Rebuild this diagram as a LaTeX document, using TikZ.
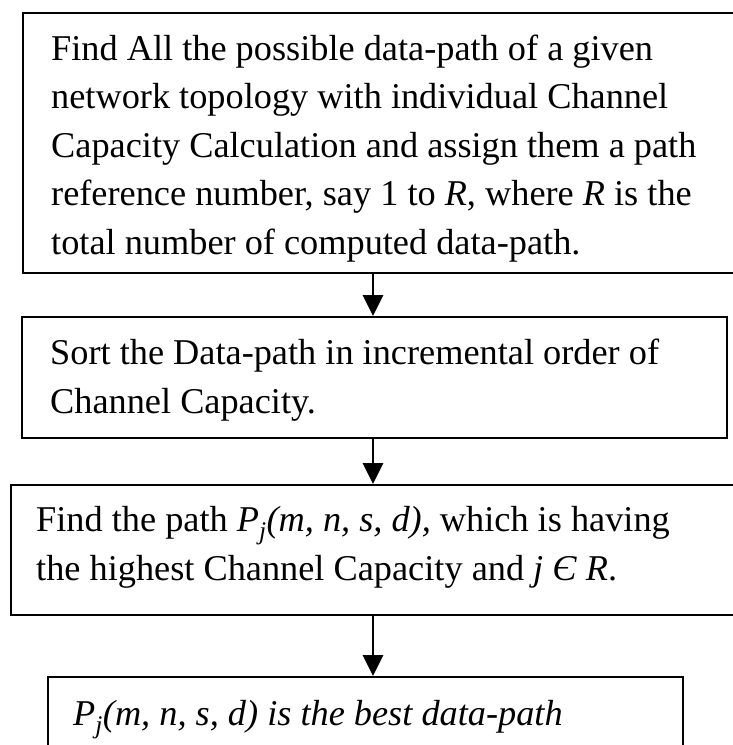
\documentclass[tikz,border=0pt]{standalone}
\usepackage{fontspec}
\setmainfont{Liberation Serif}
\usetikzlibrary{arrows.meta}
\begin{document}
\begin{tikzpicture}[x=1pt,y=-1pt,
  box/.style={draw=black, line width=1.8pt, rectangle, inner sep=0pt, anchor=north west},
  txt/.style={inner sep=0pt, anchor=base west, align=left,
    font=\fontsize{36.3}{48.5}\selectfont},
  flow/.style={line width=2.8pt, -{Triangle[length=21pt 0 0, width=20pt 0 0]}}]
\useasboundingbox (0,0) rectangle (732,745);

% process boxes (first and third run past the right edge, the last past the bottom)
\node[box, minimum width=723pt, minimum height=260pt] (b1) at (22,12) {};
\node[box, minimum width=705pt, minimum height=121pt] (b2) at (21,316) {};
\node[box, minimum width=735pt, minimum height=130pt] (b3) at (10,484) {};
\node[box, minimum width=635pt, minimum height=90pt] (b4) at (47,676) {};

% box texts, each placed by the baseline of its last line
\node[txt] (t1) at (51,254) {Find All the possible data-path of a given\\
network topology with individual Channel\\
Capacity Calculation and assign them a path\\
reference number, say 1 to \textit{R}, where \textit{R} is the\\
total number of computed data-path.};
\node[txt] (t2) at (50,413) {Sort the Data-path in incremental order of\\
Channel Capacity.};
\node[txt] (t3) at (36,580) {Find the path \textit{P}\textsubscript{\textit{j}}\textit{(m, n, s, d),} which is having\\
the highest Channel Capacity and \textit{j} \textit{Є} \textit{R}.};
\node[txt] (t4) at (73,725) {\itshape P\textsubscript{j}(m, n, s, d) is the best data-path};

% connectors
\coordinate (ax) at (373,0);
\draw[flow] (b1.south -| ax) -- (b2.north -| ax);
\draw[flow] (b2.south -| ax) -- (b3.north -| ax);
\draw[flow] (b3.south -| ax) -- (b4.north -| ax);
\end{tikzpicture}
\end{document}
